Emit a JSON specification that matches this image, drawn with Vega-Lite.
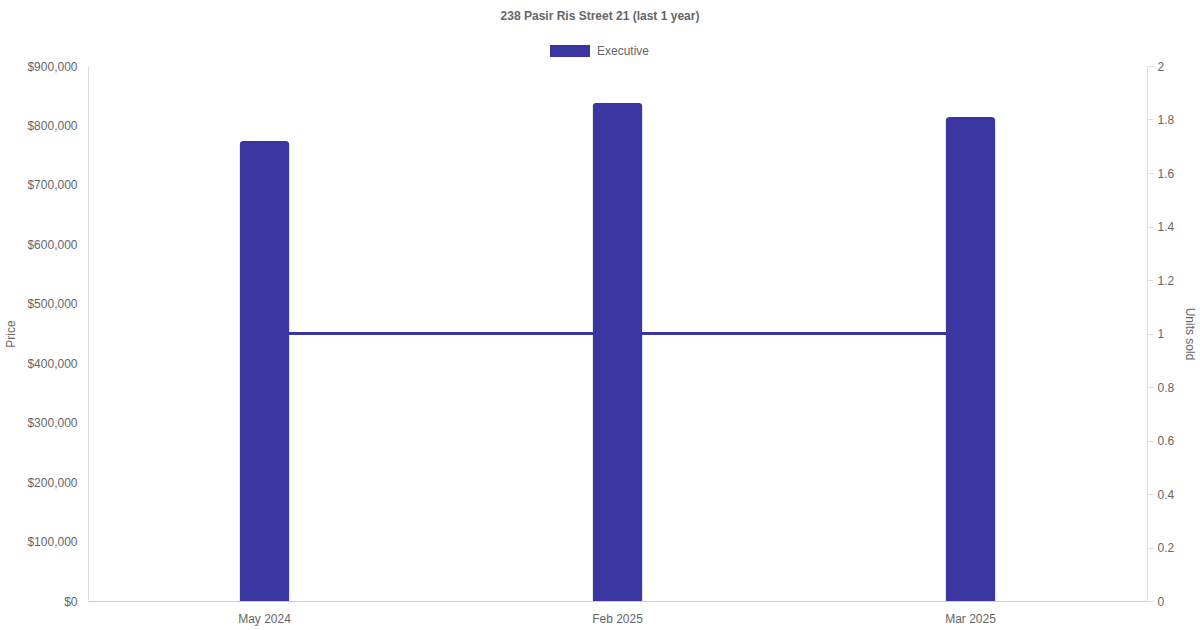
{
  "$schema": "https://vega.github.io/schema/vega-lite/v6.json",
  "width": 1059,
  "height": 535,
  "autosize": {"type": "none"},
  "padding": {"left": 88, "top": 66, "right": 53, "bottom": 29},
  "background": "white",
  "title": {
    "text": "238 Pasir Ris Street 21 (last 1 year)",
    "anchor": "middle",
    "font": "Liberation Sans",
    "fontSize": 12,
    "fontWeight": "bold",
    "color": "#666666",
    "offset": 8,
    "dx": -17.5
  },
  "config": {
    "view": {"stroke": null},
    "font": "Liberation Sans",
    "axis": {
      "labelFont": "Liberation Sans",
      "labelFontSize": 12,
      "labelColor": "#666666",
      "titleFont": "Liberation Sans",
      "titleFontSize": 12,
      "titleFontWeight": "normal",
      "titleColor": "#666666"
    }
  },
  "data": {
    "values": [
      {"month": "May 2024", "price": 774000, "units": 1, "type": "Executive"},
      {"month": "Feb 2025", "price": 838000, "units": 1, "type": "Executive"},
      {"month": "Mar 2025", "price": 814000, "units": 1, "type": "Executive"}
    ]
  },
  "encoding": {
    "x": {
      "field": "month",
      "type": "nominal",
      "sort": ["May 2024", "Feb 2025", "Mar 2025"],
      "scale": {"paddingInner": 0, "paddingOuter": 0},
      "axis": {
        "title": null,
        "labelAngle": 0,
        "ticks": false,
        "labelPadding": 12,
        "domainColor": "#cccccc",
        "grid": false
      }
    }
  },
  "layer": [
    {
      "mark": {"type": "line", "color": "#3a35a0", "strokeWidth": 3},
      "encoding": {
        "y": {
          "field": "units",
          "type": "quantitative",
          "scale": {"domain": [0, 2]},
          "axis": {
            "orient": "right",
            "title": "Units sold",
            "titleAngle": 90,
            "titlePadding": 9,
            "tickCount": 10,
            "format": "~r",
            "grid": false,
            "tickSize": 6,
            "tickColor": "#dddddd",
            "domainColor": "#dddddd",
            "labelPadding": 4
          }
        }
      }
    },
    {
      "mark": {
        "type": "bar",
        "width": 50,
        "cornerRadiusTopLeft": 4,
        "cornerRadiusTopRight": 4
      },
      "encoding": {
        "y": {
          "field": "price",
          "type": "quantitative",
          "scale": {"domain": [0, 900000]},
          "axis": {
            "orient": "left",
            "title": "Price",
            "format": "$,.0f",
            "tickCount": 9,
            "ticks": false,
            "labelPadding": 11,
            "gridColor": "#e5e5e5",
            "domainColor": "#dddddd",
            "titlePadding": 9
          }
        },
        "color": {
          "field": "type",
          "type": "nominal",
          "scale": {"domain": ["Executive"], "range": ["#3a35a0"]},
          "legend": {
            "title": null,
            "orient": "none",
            "legendX": 462,
            "legendY": -35,
            "symbolType": "M-1,-0.3H1V0.3H-1Z",
            "symbolSize": 1600,
            "symbolStrokeWidth": 0,
            "labelFont": "Liberation Sans",
            "labelFontSize": 12,
            "labelColor": "#666666",
            "labelOffset": 7
          }
        }
      }
    }
  ],
  "resolve": {"scale": {"y": "independent"}}
}
